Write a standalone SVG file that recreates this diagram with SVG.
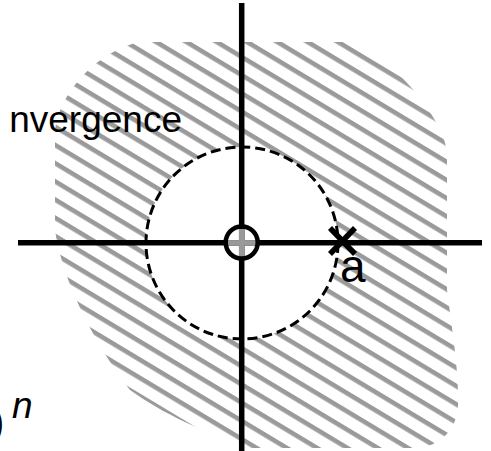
<svg xmlns="http://www.w3.org/2000/svg" width="491" height="451" viewBox="0 0 491 451">
<style>
.txt{font-family:"Liberation Sans",Arial,sans-serif;fill:#000}
.axis{stroke:#000;stroke-width:5.5;fill:none}
.gaxis{stroke:#999;stroke-width:5.5;fill:none}
</style>
<defs>
<pattern id="hatch" patternUnits="userSpaceOnUse" width="16" height="15.6" patternTransform="rotate(31)">
<rect x="0" y="0" width="16" height="4.6" fill="#9a9a9a"/>
</pattern>
</defs>
<g id="region">
<path d="M140,42 L345,42 C380,45 440,110 447,150 L447,290 C452,330 459,370 458,405 C457,430 440,447 415,448 L250,448 C200,430 165,415 130,390 C95,345 62,280 55,230 L55,130 C60,90 100,50 140,42 Z" fill="url(#hatch)"/>
</g>
<g id="unit-circle">
<circle cx="242" cy="243" r="96" fill="#fff" stroke="#000" stroke-width="3" stroke-dasharray="10 5"/>
</g>
<g id="axes">
<line class="axis" x1="241.7" y1="3" x2="241.7" y2="451"/>
<line class="axis" x1="18" y1="242.8" x2="482" y2="242.8"/>
</g>
<g id="zero">
<line class="gaxis" x1="228" y1="242.8" x2="256" y2="242.8"/>
<line class="gaxis" x1="241.7" y1="229" x2="241.7" y2="257"/>
<circle cx="241.7" cy="242.5" r="16" fill="none" stroke="#000" stroke-width="4.5"/>
</g>
<g id="pole">
<line class="axis" x1="330" y1="228" x2="355" y2="254"/>
<line class="axis" x1="355" y1="228" x2="330" y2="254"/>
<text class="txt" x="340" y="282" font-size="46">a</text>
</g>
<g id="labels">
<text class="txt" x="182" y="132" font-size="37" text-anchor="end">nvergence</text>
<text class="txt" x="12" y="418" font-size="37" font-style="italic">n</text>
<text class="txt" x="-9" y="436" font-size="40">)</text>
</g>
</svg>
